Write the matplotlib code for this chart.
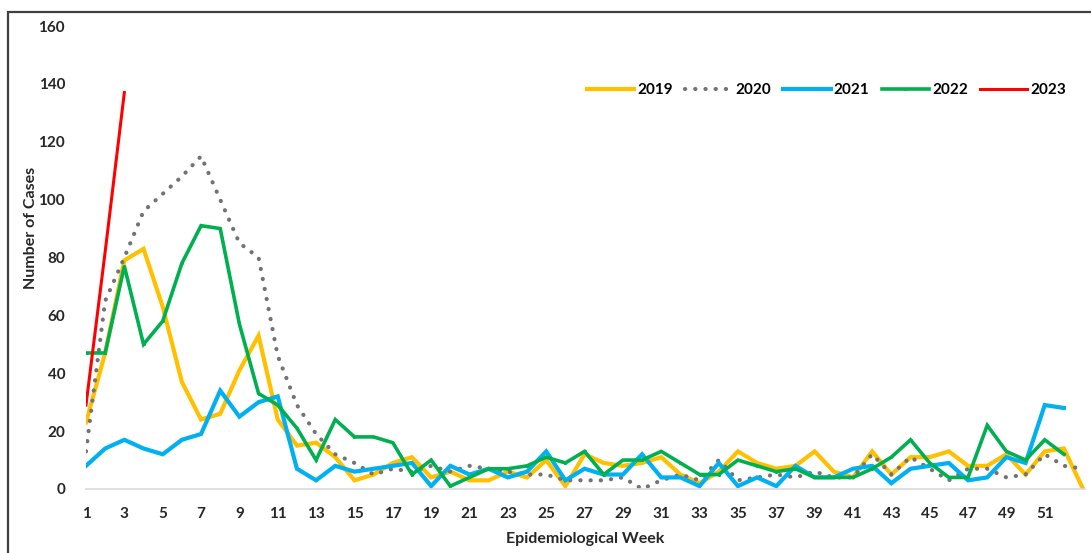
import matplotlib.pyplot as plt
from matplotlib.patches import Rectangle

# weekly case counts
weeks_53 = list(range(1, 54))
weeks_52 = list(range(1, 53))
weeks_2023 = [1, 2, 3]

cases_2019 = [23, 47, 79, 83, 63, 37, 24, 26, 41, 53, 24, 15, 16, 11, 3, 5, 9, 11, 4, 6,
              3, 3, 6, 4, 10, 1, 12, 9, 8, 9, 11, 5, 2, 6, 13, 9, 7, 8, 13, 6,
              4, 13, 5, 11, 11, 13, 8, 8, 12, 5, 13, 14, 0]
cases_2020 = [13, 65, 80, 96, 102, 108, 115, 100, 85, 80, 46, 29, 19, 12, 9, 5, 7, 6, 8, 6,
              8, 7, 6, 5, 5, 3, 3, 3, 4, 0, 3, 5, 3, 10, 3, 4, 5, 4, 6, 4,
              4, 12, 5, 11, 7, 3, 7, 7, 4, 5, 12, 8, 7]
cases_2021 = [8, 14, 17, 14, 12, 17, 19, 34, 25, 30, 32, 7, 3, 8, 6, 7, 8, 9, 1, 8,
              5, 7, 4, 6, 13, 3, 7, 5, 5, 12, 4, 4, 1, 9, 1, 4, 1, 8, 4, 4,
              7, 8, 2, 7, 8, 9, 3, 4, 11, 9, 29, 28]
cases_2022 = [47, 47, 77, 50, 58, 78, 91, 90, 57, 33, 29, 21, 10, 24, 18, 18, 16, 5, 10, 1,
              4, 7, 7, 8, 11, 9, 13, 5, 10, 10, 13, 9, 5, 5, 10, 8, 6, 7, 4, 4,
              4, 7, 11, 17, 9, 4, 4, 22, 13, 10, 17, 12]
cases_2023 = [29, 82, 137]

xtick_labels = list(range(1, 52, 2))
ytick_values = list(range(0, 161, 20))

plt.rcParams['font.family'] = ['Lato', 'DejaVu Sans']
plt.rcParams['font.weight'] = 'bold'

fig = plt.figure(figsize=(10.91, 5.53), dpi=100)
ax = fig.add_axes([86 / 1091, 1 - 489 / 553, (1085 - 86) / 1091, (489 - 26) / 553])

# outer frame around the whole chart
fig.patches.append(Rectangle((8 / 1091, -0.05), 1.1, 1 - 12 / 553 + 0.05,
                             transform=fig.transFigure, fill=False,
                             edgecolor='#404040', linewidth=1.6))

ax.plot(weeks_53, cases_2019, color='#FFC000', lw=3, label='2019', solid_joinstyle='miter')
ax.plot(weeks_53, cases_2020, color='#737373', lw=3, linestyle=(0, (0.05, 2.4)),
        dash_capstyle='round', label='2020')
ax.plot(weeks_52, cases_2021, color='#00B0F0', lw=3, label='2021', solid_joinstyle='miter')
ax.plot(weeks_52, cases_2022, color='#00B050', lw=2.6, marker='.', markersize=2.5,
        label='2022', solid_joinstyle='miter')
ax.plot(weeks_2023, cases_2023, color='#FF0000', lw=2.2, label='2023')

ax.set_xlim(1, 53.1)
ax.set_ylim(0, 160)
ax.set_xticks(xtick_labels)
ax.set_yticks(ytick_values)
ax.tick_params(axis='both', length=0, labelsize=11, colors='#262626')
ax.tick_params(axis='x', pad=13)
ax.tick_params(axis='y', pad=15)

for side in ['top', 'right', 'left']:
    ax.spines[side].set_visible(False)
ax.spines['bottom'].set_color('#d9d9d9')
ax.spines['bottom'].set_linewidth(1.2)

ax.set_xlabel('Epidemiological Week', fontsize=11.5, fontweight='bold', color='#262626')
ax.set_ylabel('Number of Cases', fontsize=11.5, fontweight='bold', color='#262626')
ax.xaxis.set_label_coords(0.5, -0.093)
ax.yaxis.set_label_coords(-0.048, 0.564)

ax.legend(loc='center right', bbox_to_anchor=(0.995, 0.862), ncol=5, frameon=False,
          fontsize=11, handlelength=3.1, handletextpad=0.2, columnspacing=0.8)

plt.savefig('out.png', dpi=100)
